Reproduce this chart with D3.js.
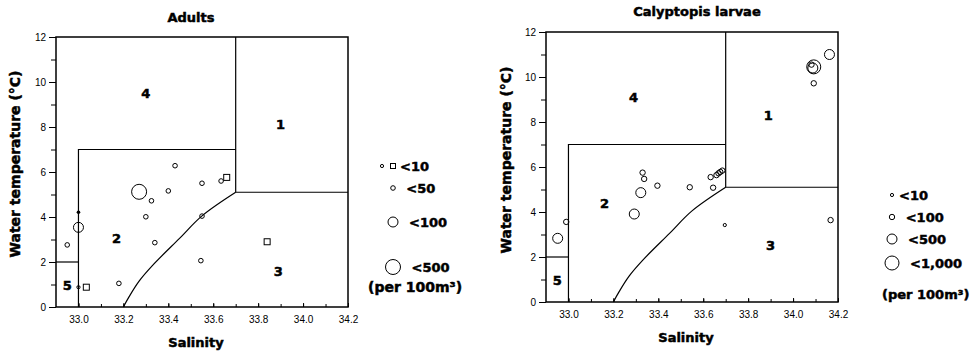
<!DOCTYPE html>
<html>
<head>
<meta charset="utf-8">
<script src="https://cdn.jsdelivr.net/npm/d3@7"></script>
<style>
body { margin: 0; background: #fff; }
text { fill: #000; }
.heavy { font-family: "DejaVu Sans", sans-serif; font-weight: bold; stroke: #000; stroke-width: 0.5px; }
.tick text { font-family: "Liberation Sans", Arial, sans-serif; font-size: 10px; }
</style>
</head>
<body>
<div id="chart"></div>
<script>
var salinityLabels = [33.0, 33.2, 33.4, 33.6, 33.8, 34.0, 34.2];
var salinityMinor = [33.0, 33.1, 33.2, 33.3, 33.4, 33.5, 33.6, 33.7, 33.8, 33.9, 34.0, 34.1, 34.2];
var tempLabels = [0, 2, 4, 6, 8, 10, 12];
var tempMinor = [0, 1, 2, 3, 4, 5, 6, 7, 8, 9, 10, 11, 12];

// water mass boundaries, [salinity, temperature]
var bound1 = [[33.7, 12], [33.7, 5.1], [34.2, 5.1]];
var bound4 = [[33.0, 0], [33.0, 7], [33.7, 7]];
var bound5 = [[32.9, 2], [33.0, 2]];
var bound23 = [[33.2, 0], [33.225, 0.45], [33.27, 1.15], [33.33, 1.85], [33.45, 3.05], [33.55, 4.05], [33.7, 5.1]];

var zoneNames = ["1", "2", "3", "4", "5"];
var adultsZoneAt = [[33.9, 8.1], [33.17, 3.07], [33.89, 1.6], [33.3, 9.5], [32.95, 0.98]];
var larvaeZoneAt = [[33.89, 8.3], [33.16, 4.4], [33.9, 2.5], [33.29, 9.1], [32.95, 0.98]];

// Adults
var adultsSal  = [33.27, 33.325, 33.30, 33.34, 33.40, 33.55, 33.545, 33.55, 33.635, 33.66, 32.95, 33.18, 33.0, 33.035, 33.0, 33.0, 33.43, 33.84];
var adultsTemp = [5.12, 4.72, 4.01, 2.86, 5.16, 5.50, 2.06, 4.04, 5.6, 5.76, 2.76, 1.05, 0.88, 0.88, 4.21, 3.54, 6.28, 2.9];
var adultsClass = ["<500", "<50", "<50", "<50", "<50", "<50", "<50", "<50", "<50", "<10", "<50", "<50", "<10", "<10", "<10", "<100", "<50", "<10"];
var adultsMark = ["o", "o", "o", "o", "o", "o", "o", "o", "o", "sq", "o", "o", "o", "sq", "dot", "o", "o", "sq"];
var adultsClasses = ["<10", "<50", "<100", "<500"];
var adultsRadius = [1.6, 2.3, 5, 7.5];

// Calyptopis larvae
var larvaeSal  = [32.952, 32.99, 33.293, 33.322, 33.33, 33.337, 33.396, 33.54, 33.633, 33.644, 33.659, 33.668, 33.676, 33.685, 33.696, 34.167, 34.162, 34.092, 34.088, 34.082, 34.092];
var larvaeTemp = [2.83, 3.56, 3.91, 4.86, 5.75, 5.47, 5.17, 5.10, 5.55, 5.08, 5.64, 5.72, 5.78, 5.84, 3.42, 3.64, 11.0, 10.45, 10.4, 10.55, 9.72];
var larvaeClass = ["<500", "<100", "<500", "<500", "<100", "<100", "<100", "<100", "<100", "<100", "<100", "<100", "<100", "<100", "<10", "<100", "<500", "<1,000", "<500", "<100", "<100"];
var larvaeClasses = ["<10", "<100", "<500", "<1,000"];
var larvaeRadius = [1.6, 2.7, 5, 7];

var svg = d3.select("#chart").append("svg").attr("width", 974).attr("height", 353);

function drawPanel(opt) {
    var x = d3.scaleLinear().domain([32.9, 34.2]).range([opt.left, opt.right]);
    var y = d3.scaleLinear().domain([0, 12]).range([opt.bottom, opt.top]);
    var g = svg.append("g");
    var line = d3.line().x(function (d) { return x(d[0]); }).y(function (d) { return y(d[1]); });

    // axes
    var xa = g.append("g").attr("transform", "translate(0," + opt.bottom + ")");
    xa.call(d3.axisBottom(x).tickValues(salinityMinor).tickSize(-3).tickFormat(""));
    var xl = g.append("g").attr("transform", "translate(0," + opt.bottom + ")");
    xl.call(d3.axisBottom(x).tickValues(salinityLabels).tickSize(-4).tickPadding(9).tickFormat(d3.format(".1f")));
    var ya = g.append("g").attr("transform", "translate(" + opt.left + ",0)");
    ya.call(d3.axisLeft(y).tickValues(tempMinor).tickSize(5).tickFormat(""));
    var yl = g.append("g").attr("transform", "translate(" + opt.left + ",0)");
    yl.call(d3.axisLeft(y).tickValues(tempLabels).tickSize(7).tickPadding(3));
    g.selectAll(".domain").remove();
    g.selectAll(".tick line").attr("stroke", "#000").attr("stroke-width", 1);

    // frame
    g.append("rect")
        .attr("x", x(32.9)).attr("y", y(12))
        .attr("width", x(34.2) - x(32.9)).attr("height", y(0) - y(12))
        .attr("fill", "none").attr("stroke", "#000").attr("stroke-width", 1.5);

    [bound1, bound4, bound5].forEach(function (b) {
        g.append("path").attr("d", line(b)).attr("fill", "none").attr("stroke", "#000").attr("stroke-width", 1.2);
    });
    g.append("path").attr("d", line.curve(d3.curveCatmullRom)(bound23))
        .attr("fill", "none").attr("stroke", "#000").attr("stroke-width", 1.2);

    g.selectAll(".zone").data(zoneNames).enter().append("text")
        .attr("class", "heavy")
        .attr("x", function (d, i) { return x(opt.zoneAt[i][0]); })
        .attr("y", function (d, i) { return y(opt.zoneAt[i][1]); })
        .attr("dy", "0.36em")
        .attr("text-anchor", "middle")
        .attr("font-size", 13)
        .text(function (d) { return d; });

    var r = d3.scaleOrdinal().domain(opt.classes).range(opt.radius);

    opt.sal.forEach(function (s, i) {
        var cx = x(s), cy = y(opt.temp[i]), m = opt.mark ? opt.mark[i] : "o";
        var rad = r(opt.cls[i]);
        if (m == "sq") {
            g.append("rect").attr("x", cx - 3).attr("y", cy - 3).attr("width", 6).attr("height", 6)
                .attr("fill", "#fff").attr("stroke", "#000").attr("stroke-width", 1);
        } else if (m == "dot") {
            g.append("circle").attr("cx", cx).attr("cy", cy).attr("r", 1.8).attr("fill", "#000");
        } else {
            g.append("circle").attr("cx", cx).attr("cy", cy).attr("r", rad)
                .attr("fill", "none").attr("stroke", "#000").attr("stroke-width", 1);
        }
    });

    // titles
    g.append("text").attr("class", "heavy").attr("font-size", 13)
        .attr("x", opt.titleX).attr("y", opt.titleY).attr("text-anchor", "middle").text(opt.title);
    g.append("text").attr("class", "heavy").attr("font-size", 13)
        .attr("x", (opt.left + opt.right) / 2 - 6).attr("y", opt.bottom + 40).attr("text-anchor", "middle").text("Salinity");
    g.append("text").attr("class", "heavy").attr("font-size", 14)
        .attr("transform", "translate(" + opt.yLabelX + "," + opt.yLabelY + ") rotate(-90)")
        .attr("text-anchor", "middle").text("Water temperature (°C)");

    // legend
    var lg = g.append("g");
    opt.classes.forEach(function (c, i) {
        var ly = opt.legendY[i], rad = opt.radius[i];
        var cx = opt.legendX;
        var tx = cx + rad + 11;
        if (i == 0 && opt.mark) {
            cx = opt.legendX - 11;
            lg.append("rect").attr("x", opt.legendX - 2.5).attr("y", ly - 2.5).attr("width", 5).attr("height", 5)
                .attr("fill", "none").attr("stroke", "#000").attr("stroke-width", 1);
            tx = opt.legendX + 7;
        } else if (i == 0) {
            tx = opt.legendX + 7;
        }
        lg.append("circle").attr("cx", cx).attr("cy", ly).attr("r", rad)
            .attr("fill", "none").attr("stroke", "#000").attr("stroke-width", 1);
        lg.append("text").attr("class", "heavy").attr("font-size", 13)
            .attr("x", tx).attr("y", ly).attr("dy", "0.36em").text(c);
    });
    lg.append("text").attr("class", "heavy").attr("font-size", opt.perSize)
        .attr("x", opt.perX).attr("y", opt.perY).attr("dy", "0.36em").text("(per 100m³)");
}

drawPanel({
    left: 56, right: 348, top: 37, bottom: 307,
    title: "Adults", titleX: 191, titleY: 22,
    yLabelX: 20, yLabelY: 164,
    zoneAt: adultsZoneAt,
    sal: adultsSal, temp: adultsTemp, cls: adultsClass, mark: adultsMark,
    classes: adultsClasses, radius: adultsRadius,
    legendX: 393, legendY: [166, 188, 222, 267],
    perX: 368, perY: 287, perSize: 14
});

drawPanel({
    left: 546, right: 838, top: 32, bottom: 302,
    title: "Calyptopis larvae", titleX: 697, titleY: 16,
    yLabelX: 511, yLabelY: 160,
    zoneAt: larvaeZoneAt,
    sal: larvaeSal, temp: larvaeTemp, cls: larvaeClass, mark: null,
    classes: larvaeClasses, radius: larvaeRadius,
    legendX: 892, legendY: [195, 217, 239, 263],
    perX: 882, perY: 294, perSize: 13
});
</script>
</body>
</html>
